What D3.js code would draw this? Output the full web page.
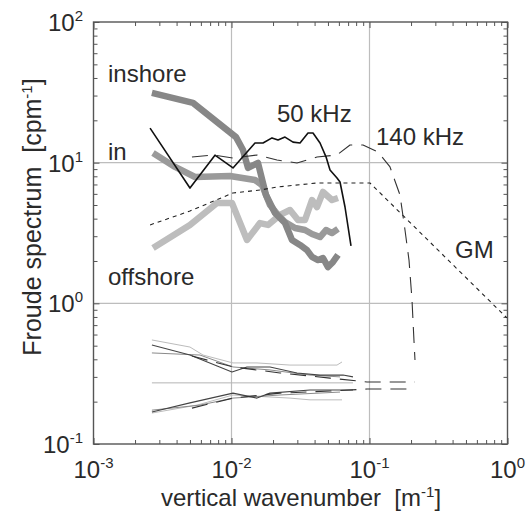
<!DOCTYPE html>
<html><head><meta charset="utf-8">
<script src="https://cdn.jsdelivr.net/npm/d3@7"></script>
<style>
body{margin:0;background:#fff}
svg{display:block}
text{font-family:"Liberation Sans",Arial,sans-serif;fill:#2a2a2a;white-space:pre}
</style>
</head><body>
<svg id="c" width="531" height="512"></svg>
<script>
// ---- tick data ----
const xMajor = [1e-3, 1e-2, 1e-1, 1];
const xMajorExp = ["-3", "-2", "-1", "0"];
const yMajor = [1e-1, 1, 10, 100];
const yMajorExp = ["-1", "0", "1", "2"];
const xGrid = [1e-2, 1e-1];
const yGrid = [1, 10];

// ---- spectra (k in m^-1, S in cpm^-1) ----
const inshoreK = [0.00265,0.00526,0.01078,0.01212,0.01317,0.01556,0.01778,0.02066,0.02442,0.02744,0.03136,0.03524,0.03831,0.04236,0.04603,0.05004,0.0544,0.05913];
const inshoreS = [31.3,26.6,15.2,12.3,9.17,9.95,5.89,4.39,3.72,2.82,2.60,2.39,2.14,2.03,2.10,1.81,1.97,2.21];

const inK = [0.0027,0.0039,0.00544,0.00975,0.0148,0.01663,0.01901,0.02173,0.02442,0.02885,0.03408,0.03831,0.0438,0.0484,0.05349,0.05913];
const inS = [11.7,9.32,7.91,8.04,7.53,6.94,5.00,4.25,3.79,3.43,3.32,3.11,2.96,3.32,3.16,3.38];

const offshoreK = [0.0027,0.0050,0.00785,0.01008,0.01295,0.01609,0.01839,0.02246,0.02654,0.03033,0.03408,0.03831,0.04165,0.04603,0.05349,0.05913];
const offshoreS = [2.47,3.61,5.17,5.17,2.82,3.72,3.61,4.25,4.61,3.91,3.91,5.43,4.84,6.19,5.43,5.61];

const k50K = [0.00257,0.0050,0.00759,0.01025,0.0148,0.01692,0.01966,0.02173,0.02442,0.02791,0.03136,0.03584,0.03896,0.0438,0.0484,0.05174,0.05815,0.06114,0.06645,0.07344];
const k50S = [17.6,6.60,11.3,9.17,13.8,13.8,15.0,14.5,15.2,14.0,13.8,16.25,16.25,13.8,11.0,8.87,7.78,7.29,4.84,2.56];

const k140K = [0.00517,0.00734,0.01025,0.0153,0.02136,0.02983,0.04165,0.05815,0.07223,0.08975,0.1152,0.1408,0.1663,0.1808,0.1933,0.2032,0.2099,0.2136];
const k140S = [10.97,11.34,10.79,11.34,10.44,9.95,10.97,11.34,13.36,13.36,11.91,9.32,5.89,3.32,2.03,1.06,0.549,0.396];

const gmK = [0.00257,0.0050,0.01025,0.01609,0.02136,0.04165,0.1008,0.99];
const gmS = [3.61,4.53,6.09,6.39,6.71,7.17,7.17,0.787];

// ---- normalized confidence bounds ----
const ciUp1K = [0.00265,0.0050,0.01008,0.01295,0.01901,0.02983,0.0438,0.06427,0.07592];
const ciUp1S = [0.506,0.429,0.325,0.353,0.353,0.320,0.309,0.309,0.300];
const ciUp2K = [0.00265,0.0050,0.00622,0.01025,0.0153,0.02654,0.05815,0.06321];
const ciUp2S = [0.549,0.489,0.429,0.377,0.377,0.364,0.364,0.383];
const ciUp3K = [0.00265,0.00591,0.01025,0.01901,0.03706,0.06114];
const ciUp3S = [0.444,0.429,0.353,0.336,0.309,0.300];
const ciUp140K = [0.00517,0.01025,0.02246,0.05174,0.09592,0.2136];
const ciUp140S = [0.422,0.353,0.320,0.294,0.276,0.276];

const ciLo1K = [0.00265,0.0050,0.01025,0.0153,0.01901,0.03706,0.07592];
const ciLo1S = [0.169,0.196,0.230,0.212,0.230,0.242,0.242];
const ciLo2K = [0.00265,0.00562,0.01025,0.02654,0.03706,0.06321];
const ciLo2S = [0.166,0.189,0.223,0.212,0.206,0.206];
const ciLo3K = [0.00265,0.00591,0.01025,0.02246,0.06114];
const ciLo3S = [0.174,0.189,0.212,0.223,0.234];
const ciLo140K = [0.00517,0.01025,0.02246,0.05174,0.09592,0.2136];
const ciLo140S = [0.180,0.212,0.230,0.238,0.246,0.246];

const refK = [0.00265,0.07592];
const refS = [0.272,0.272];

// ---- labels ----
const curveLabels = [
  {t:"inshore", k:0.001274, s:37.4},
  {t:"in", k:0.001274, s:10.45},
  {t:"offshore", k:0.001274, s:1.35},
  {t:"50 kHz", k:0.02136, s:19.5},
  {t:"140 kHz", k:0.1115, s:13.4},
  {t:"GM", k:0.4165, s:2.10}
];

// ---- drawing ----
const svg = d3.select("#c");
const L = 93.5, R = 507.5, T = 22, B = 444;
const x = d3.scaleLog().domain([1e-3, 1]).range([L, R]);
const y = d3.scaleLog().domain([0.1, 100]).range([B, T]);

// grid
svg.append("g").selectAll("line").data(xGrid).join("line")
  .attr("x1", d => x(d)).attr("x2", d => x(d)).attr("y1", T).attr("y2", B)
  .attr("stroke", "#bdbdbd").attr("stroke-width", 1.2);
svg.append("g").selectAll("line").data(yGrid).join("line")
  .attr("y1", d => y(d)).attr("y2", d => y(d)).attr("x1", L).attr("x2", R)
  .attr("stroke", "#bdbdbd").attr("stroke-width", 1.2);

// axes (inward ticks on all four sides)
const xMinor = [], yMinor = [];
for (let e = -3; e < 0; e++) for (let m = 2; m <= 9; m++) xMinor.push(m * Math.pow(10, e));
for (let e = -1; e < 2; e++) for (let m = 2; m <= 9; m++) yMinor.push(m * Math.pow(10, e));

function styleAxis(g) {
  g.select(".domain").remove();
  g.selectAll(".tick line").attr("stroke", "#555").attr("stroke-width", 1);
  g.selectAll(".tick text").remove();
}
const axes = [
  [d3.axisBottom(x), `translate(0,${B})`, xMajor, xMinor],
  [d3.axisTop(x), `translate(0,${T})`, xMajor, xMinor],
  [d3.axisLeft(y), `translate(${L},0)`, yMajor, yMinor],
  [d3.axisRight(y), `translate(${R},0)`, yMajor, yMinor]
];
axes.forEach(([ax, tr, maj, min]) => {
  svg.append("g").attr("transform", tr).call(ax.tickValues(min).tickSize(-4).tickFormat("")).call(styleAxis);
  const ax2 = ax.tickValues(maj).tickSize(-6);
  svg.append("g").attr("transform", tr).call(ax2).call(styleAxis);
});

// frame
svg.append("rect").attr("x", L).attr("y", T).attr("width", R - L).attr("height", B - T)
  .attr("fill", "none").attr("stroke", "#555").attr("stroke-width", 1.4);

// tick labels
const fs = 24;
xMajor.forEach((v, i) => {
  const t = svg.append("text").attr("x", x(v)).attr("y", 478).attr("text-anchor", "middle").style("font-size", fs + "px");
  t.append("tspan").text("10");
  t.append("tspan").attr("dy", -10).style("font-size", "15px").text(xMajorExp[i]);
});
yMajor.forEach((v, i) => {
  const t = svg.append("text").attr("x", 83).attr("y", y(v) + 9).attr("text-anchor", "end").style("font-size", fs + "px");
  t.append("tspan").text("10");
  t.append("tspan").attr("dy", -10).style("font-size", "15px").text(yMajorExp[i]);
});

// axis titles
{
  const t = svg.append("text").attr("x", 301).attr("y", 506).attr("text-anchor", "middle").style("font-size", "24px");
  t.append("tspan").text("vertical wavenumber  [m");
  t.append("tspan").attr("dy", -9).style("font-size", "15px").text("-1");
  t.append("tspan").attr("dy", 9).text("]");
}
{
  const t = svg.append("text").attr("transform", "translate(41,217) rotate(-90)").attr("text-anchor", "middle").style("font-size", "25px");
  t.append("tspan").text("Froude spectrum  [cpm");
  t.append("tspan").attr("dy", -9).style("font-size", "15px").text("-1");
  t.append("tspan").attr("dy", 9).text("]");
}

const line = d3.line().x(d => x(d[0])).y(d => y(d[1]));
function draw(K, S, stroke, w, dash) {
  const p = svg.append("path").datum(d3.zip(K, S)).attr("d", line)
    .attr("fill", "none").attr("stroke", stroke).attr("stroke-width", w)
    .attr("stroke-linejoin", "round");
  if (dash) p.attr("stroke-dasharray", dash);
}

// confidence bounds
draw(refK, refS, "#b5b5b5", 1);
draw(ciUp2K, ciUp2S, "#bcbcbc", 1);
draw(ciLo2K, ciLo2S, "#bcbcbc", 1);
draw(ciUp3K, ciUp3S, "#8a8a8a", 1);
draw(ciLo3K, ciLo3S, "#8a8a8a", 1);
draw(ciUp1K, ciUp1S, "#444", 1.1);
draw(ciLo1K, ciLo1S, "#444", 1.1);
draw(ciUp140K, ciUp140S, "#333", 1.1, "16,9");
draw(ciLo140K, ciLo140S, "#333", 1.1, "16,9");

// thick grey spectra
draw(offshoreK, offshoreS, "#bdbdbd", 6.5);
draw(inK, inS, "#9a9a9a", 6.5);
draw(inshoreK, inshoreS, "#878787", 6.5);

// GM and instruments
draw(gmK, gmS, "#222", 1.1, "4,4");
draw(k140K, k140S, "#333", 1.1, "16,9");
draw(k50K, k50S, "#111", 1.6);

// curve labels
svg.append("g").selectAll("text").data(curveLabels).join("text")
  .attr("x", d => x(d.k)).attr("y", d => y(d.s)).style("font-size", "24px").text(d => d.t);
</script>
</body></html>
